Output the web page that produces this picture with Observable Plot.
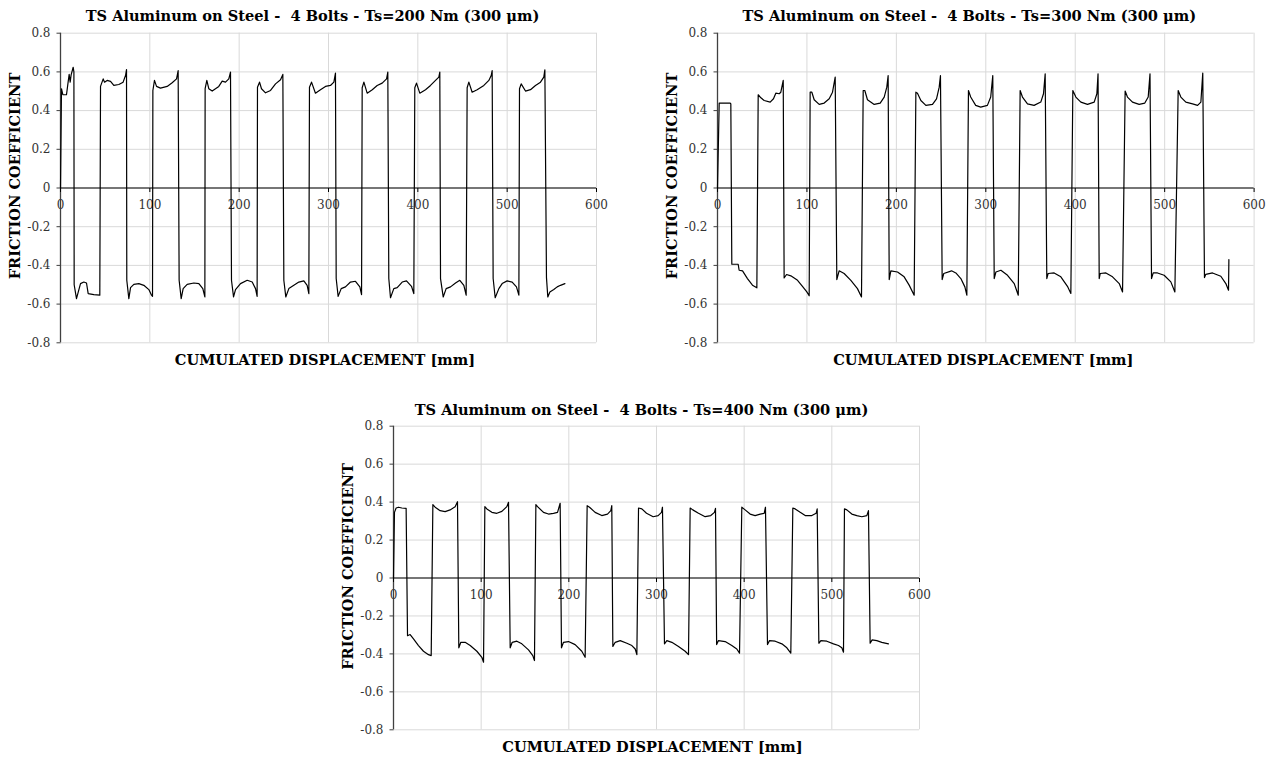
<!DOCTYPE html>
<html><head><meta charset="utf-8">
<script src="https://cdn.jsdelivr.net/npm/d3@7"></script>
<script src="https://cdn.jsdelivr.net/npm/@observablehq/plot@0.6"></script>
<style>
html,body{margin:0;padding:0;background:#fff;overflow:hidden;}
#root{position:relative;width:1277px;height:760px;}
.chart{position:absolute;}
.chart svg text{white-space:pre;}
</style></head><body><div id="root"></div>
<script>
// ---------- text ----------
const titles = [
  "TS Aluminum on Steel -  4 Bolts - Ts=200 Nm (300 \u03bcm)",
  "TS Aluminum on Steel -  4 Bolts - Ts=300 Nm (300 \u03bcm)",
  "TS Aluminum on Steel -  4 Bolts - Ts=400 Nm (300 \u03bcm)"
];
const xLabel = "CUMULATED DISPLACEMENT [mm]";
const yLabel = "FRICTION COEFFICIENT";
const xTicks = [0, 100, 200, 300, 400, 500, 600];
const xTickLabels = ["0", "100", "200", "300", "400", "500", "600"];
const yTicks = [-0.8, -0.6, -0.4, -0.2, 0, 0.2, 0.4, 0.6, 0.8];
const yTickLabels = ["-0.8", "-0.6", "-0.4", "-0.2", "0", "0.2", "0.4", "0.6", "0.8"];

// ---------- data: Ts = 200 Nm ----------
const ts200X = [
  0, 1.1, 2.6, 6.7, 8.6, 9.7, 10.8, 11.9, 14.2, 15.0,
  15.3, 17.9, 22.4, 26.1, 29.1, 31.0, 37.3, 44.0,
  44.8, 47.8, 49.3, 52.2, 56.0, 59.7, 65.3, 70.1, 72.8, 73.9,
  74.2, 76.5, 78.4, 82.1, 87.7, 93.3, 98.9, 101.9, 103.0,
  103.4, 105.2, 107.5, 111.9, 119.4, 125.0, 129.9, 131.7,
  132.8, 135.1, 137.3, 141.8, 149.3, 154.9, 159.3, 161.6,
  161.9, 163.8, 166.0, 169.8, 177.2, 181.0, 184.7, 188.4, 190.3,
  191.4, 193.7, 195.9, 201.5, 209.0, 214.6, 218.3, 220.1,
  220.5, 222.8, 225.0, 229.5, 235.1, 240.7, 246.3, 248.9,
  250.0, 252.2, 255.6, 261.2, 266.8, 272.4, 276.1, 278.0,
  278.7, 281.0, 285.4, 291.0, 296.6, 302.2, 306.0, 307.8,
  308.6, 310.8, 314.2, 319.0, 324.6, 330.2, 335.1, 337.0,
  337.7, 339.6, 343.3, 349.0, 354.5, 360.1, 365.0, 366.4,
  367.5, 369.4, 373.1, 376.9, 382.5, 387.3, 392.9, 395.5,
  396.6, 398.5, 402.2, 408.6, 414.2, 419.8, 423.5, 424.6,
  425.4, 428.4, 431.7, 436.6, 442.2, 447.0, 451.5, 454.1,
  455.2, 457.1, 460.8, 466.4, 473.9, 479.5, 482.1, 483.2,
  484.3, 486.6, 490.7, 494.4, 500.0, 505.6, 510.4, 513.1,
  513.8, 515.7, 520.5, 526.1, 531.7, 537.3, 541.0, 542.2,
  544.0, 545.5, 547.8, 552.2, 556.0, 559.7, 564.6
];
const ts200Y = [
  0, 0.513, 0.482, 0.482, 0.55, 0.587, 0.547, 0.585, 0.624, 0.60,
  -0.50, -0.572, -0.494, -0.486, -0.491, -0.546, -0.551, -0.554,
  0.525, 0.564, 0.547, 0.556, 0.551, 0.530, 0.535, 0.547, 0.581, 0.612,
  -0.477, -0.572, -0.515, -0.498, -0.494, -0.503, -0.525, -0.554, -0.56,
  0.504, 0.556, 0.525, 0.516, 0.525, 0.544, 0.564, 0.607,
  -0.477, -0.572, -0.520, -0.498, -0.491, -0.494, -0.520, -0.563,
  0.513, 0.556, 0.513, 0.501, 0.525, 0.552, 0.547, 0.564, 0.599,
  -0.477, -0.563, -0.525, -0.494, -0.477, -0.486, -0.520, -0.560,
  0.521, 0.547, 0.513, 0.492, 0.504, 0.538, 0.559, 0.587,
  -0.477, -0.563, -0.520, -0.503, -0.486, -0.480, -0.503, -0.546,
  0.521, 0.547, 0.490, 0.508, 0.525, 0.530, 0.547, 0.594,
  -0.468, -0.560, -0.520, -0.511, -0.486, -0.482, -0.511, -0.551,
  0.518, 0.547, 0.490, 0.508, 0.530, 0.542, 0.564, 0.599,
  -0.468, -0.567, -0.520, -0.515, -0.486, -0.480, -0.508, -0.546,
  0.518, 0.542, 0.490, 0.508, 0.530, 0.556, 0.573, 0.599,
  -0.468, -0.563, -0.520, -0.511, -0.491, -0.477, -0.503, -0.554,
  0.518, 0.547, 0.495, 0.508, 0.530, 0.556, 0.581, 0.607,
  -0.468, -0.567, -0.520, -0.494, -0.480, -0.486, -0.511, -0.554,
  0.513, 0.538, 0.501, 0.508, 0.530, 0.547, 0.573, 0.611,
  -0.463, -0.563, -0.537, -0.525, -0.511, -0.503, -0.494
];

// ---------- data: Ts = 300 Nm ----------
const ts300X = [
  0, 1.9, 14.2, 14.9,
  16.0, 23.1, 24.2, 28.0, 33.5, 39.1, 44.0,
  45.5, 48.5, 52.2, 58.9, 62.6, 65.2, 69.0, 70.8, 73.5,
  74.5, 77.2, 82.0, 89.5, 95.0, 99.9, 102.5,
  103.6, 105.5, 108.1, 113.7, 119.3, 124.9, 128.6, 131.6,
  133.4, 136.0, 141.6, 149.1, 156.5, 161.0,
  162.9, 164.7, 167.7, 175.2, 181.9, 186.4, 189.3, 190.8,
  192.0, 193.8, 201.3, 208.7, 214.3, 219.9,
  221.8, 223.6, 227.4, 233.0, 240.4, 244.9, 247.9, 249.3,
  251.2, 253.0, 261.7, 266.5, 272.1, 276.6, 278.8,
  280.6, 283.1, 288.7, 294.3, 301.8, 305.5, 307.8,
  309.4, 311.3, 316.9, 324.3, 331.8, 336.3,
  338.4, 341.0, 346.6, 354.0, 361.5, 364.5, 366.4,
  368.2, 369.7, 376.4, 383.9, 391.3, 395.1,
  397.3, 400.7, 406.3, 413.7, 421.2, 424.2, 425.5,
  426.8, 427.9, 434.3, 441.7, 449.2, 452.9,
  455.8, 458.4, 464.0, 471.5, 477.8, 481.6, 483.6,
  485.3, 487.2, 492.0, 499.4, 506.9, 511.4,
  515.1, 518.1, 523.7, 531.2, 536.8, 540.5, 542.6,
  544.5, 546.0, 553.5, 562.8, 568.4, 571.4, 571.8
];
const ts300Y = [
  0, 0.439, 0.439, 0.435,
  -0.394, -0.394, -0.425, -0.428, -0.468, -0.502, -0.516,
  0.482, 0.466, 0.452, 0.444, 0.461, 0.490, 0.487, 0.495, 0.556,
  -0.465, -0.447, -0.454, -0.477, -0.508, -0.537, -0.557,
  0.495, 0.495, 0.456, 0.432, 0.439, 0.461, 0.495, 0.573,
  -0.473, -0.428, -0.442, -0.477, -0.520, -0.563,
  0.504, 0.504, 0.456, 0.432, 0.439, 0.470, 0.521, 0.581,
  -0.473, -0.428, -0.434, -0.459, -0.502, -0.554,
  0.495, 0.490, 0.452, 0.427, 0.432, 0.461, 0.521, 0.581,
  -0.473, -0.442, -0.428, -0.439, -0.468, -0.511, -0.554,
  0.504, 0.470, 0.427, 0.418, 0.427, 0.470, 0.581,
  -0.468, -0.434, -0.425, -0.451, -0.494, -0.554,
  0.504, 0.470, 0.435, 0.427, 0.444, 0.487, 0.590,
  -0.468, -0.442, -0.439, -0.459, -0.508, -0.545,
  0.504, 0.470, 0.444, 0.432, 0.444, 0.487, 0.590,
  -0.468, -0.442, -0.439, -0.459, -0.494, -0.537,
  0.501, 0.470, 0.444, 0.432, 0.439, 0.470, 0.590,
  -0.468, -0.439, -0.439, -0.451, -0.485, -0.537,
  0.504, 0.470, 0.444, 0.435, 0.427, 0.444, 0.594,
  -0.463, -0.446, -0.439, -0.456, -0.494, -0.528, -0.370
];

// ---------- data: Ts = 400 Nm ----------
const ts400X = [
  0, 1.1, 3.0, 5.7, 9.5, 14.4,
  16.0, 19.0, 22.8, 28.5, 34.2, 39.9, 43.0,
  44.9, 47.5, 53.2, 58.9, 64.6, 70.3, 73.0,
  74.5, 76.8, 81.7, 87.5, 95.1, 100.8, 102.7,
  104.2, 106.5, 112.2, 117.9, 123.6, 129.3, 131.2,
  133.1, 135.4, 140.7, 146.4, 154.0, 158.9, 160.8,
  162.4, 164.3, 171.1, 176.8, 182.5, 187.1, 190.1,
  191.6, 193.9, 199.6, 207.2, 214.8, 218.6,
  220.9, 223.6, 230.0, 237.6, 244.1, 247.9, 249.0,
  250.2, 252.9, 258.6, 266.2, 271.9, 275.7, 277.6,
  279.5, 283.3, 288.6, 296.2, 301.9, 305.7, 306.8,
  309.1, 311.8, 317.5, 325.1, 332.7, 336.5,
  338.4, 341.4, 347.9, 355.5, 361.9, 366.1, 367.3,
  368.6, 370.7, 378.3, 385.9, 391.6, 394.7,
  397.3, 401.1, 406.8, 412.5, 418.3, 422.8, 424.3,
  426.6, 428.9, 435.4, 443.0, 448.7, 453.2,
  455.5, 458.2, 463.9, 469.6, 477.2, 482.1, 483.3,
  485.2, 487.5, 494.3, 501.9, 507.6, 511.4, 513.3,
  514.4, 517.1, 522.8, 528.5, 534.2, 539.9, 541.8,
  543.7, 546.0, 551.3, 557.0, 564.6
];
const ts400Y = [
  0, 0.346, 0.369, 0.373, 0.369, 0.367,
  -0.304, -0.298, -0.321, -0.356, -0.386, -0.404, -0.409,
  0.387, 0.373, 0.355, 0.350, 0.359, 0.376, 0.402,
  -0.368, -0.339, -0.339, -0.356, -0.386, -0.418, -0.444,
  0.376, 0.364, 0.346, 0.341, 0.351, 0.376, 0.399,
  -0.368, -0.339, -0.333, -0.347, -0.379, -0.409, -0.435,
  0.387, 0.376, 0.346, 0.337, 0.341, 0.346, 0.394,
  -0.368, -0.339, -0.335, -0.351, -0.386, -0.418,
  0.381, 0.373, 0.346, 0.329, 0.337, 0.355, 0.381,
  -0.361, -0.339, -0.330, -0.344, -0.356, -0.374, -0.404,
  0.369, 0.364, 0.341, 0.323, 0.329, 0.346, 0.373,
  -0.347, -0.330, -0.339, -0.361, -0.386, -0.404,
  0.369, 0.359, 0.341, 0.323, 0.329, 0.346, 0.367,
  -0.351, -0.330, -0.335, -0.356, -0.374, -0.396,
  0.373, 0.359, 0.337, 0.329, 0.337, 0.341, 0.373,
  -0.351, -0.330, -0.333, -0.347, -0.368, -0.396,
  0.369, 0.364, 0.346, 0.329, 0.329, 0.341, 0.364,
  -0.344, -0.330, -0.333, -0.347, -0.356, -0.368, -0.391,
  0.364, 0.359, 0.337, 0.329, 0.323, 0.329, 0.355,
  -0.344, -0.326, -0.330, -0.339, -0.347
];

// ---------- drawing ----------
const FONT = "DejaVu Serif";
const BOLD_SIZE = 14.6;
const TICK_SIZE = 12;
const tickDown = {draw(ctx) { ctx.moveTo(0, 0); ctx.lineTo(0, 4); }};
const tickLeft = {draw(ctx) { ctx.moveTo(0, 0); ctx.lineTo(-4, 0); }};

function makeChart(xs, ys, title, L) {
  const svg = Plot.plot({
    width: L.width, height: L.height,
    marginTop: L.mt, marginRight: L.mr, marginBottom: L.mb, marginLeft: L.ml,
    x: {domain: [0, 600], axis: null},
    y: {domain: [-0.8, 0.8], axis: null},
    style: {fontFamily: FONT, background: "white", overflow: "visible"},
    marks: [
      Plot.ruleX(xTicks.slice(1), {x: d => d, stroke: "#d9d9d9", strokeWidth: 1}),
      Plot.ruleY(yTicks, {y: d => d, stroke: "#d9d9d9", strokeWidth: 1}),
      Plot.text(xTicks, {x: d => d, y: 0, text: (d, i) => xTickLabels[i], dy: 17.5, fontSize: TICK_SIZE, fill: "#333"}),
      Plot.text(yTicks, {x: 0, y: d => d, text: (d, i) => yTickLabels[i], textAnchor: "end", dx: -10, fontSize: TICK_SIZE, fill: "#333"}),
      Plot.dot(yTicks, {x: 0, y: d => d, symbol: tickLeft, fill: "none", stroke: "#404040", strokeWidth: 1, r: 2}),
      Plot.ruleX([0], {x: d => d, stroke: "#404040", strokeWidth: 1.3}),
      Plot.ruleY([0], {y: d => d, stroke: "black", strokeWidth: 1.2}),
      Plot.dot(xTicks, {x: d => d, y: 0, symbol: tickDown, fill: "none", stroke: "black", strokeWidth: 1, r: 2}),
      Plot.line(ys, {x: xs, y: ys, stroke: "black", strokeWidth: 1.2}),
      Plot.text([title], {text: d => d, frameAnchor: "top", textAnchor: "middle", lineAnchor: "middle", dx: L.tdx, dy: L.tdy, fontWeight: "bold", fontSize: BOLD_SIZE, fill: "black"}),
      Plot.text([xLabel], {text: d => d, frameAnchor: "bottom", textAnchor: "middle", lineAnchor: "middle", dx: L.xdx, dy: 17.7, fontWeight: "bold", fontSize: BOLD_SIZE, fill: "black"}),
      Plot.text([yLabel], {text: d => d, frameAnchor: "left", textAnchor: "middle", lineAnchor: "middle", rotate: -90, dx: -45, dy: L.ydy, fontWeight: "bold", fontSize: BOLD_SIZE, fill: "black"})
    ]
  });
  const div = document.createElement("div");
  div.className = "chart";
  div.style.left = L.left + "px";
  div.style.top = L.top + "px";
  div.appendChild(svg);
  document.getElementById("root").appendChild(div);
}

const layouts = [
  {left: 0, top: 0, width: 620, height: 375, mt: 32.7, mb: 32.7, ml: 60, mr: 24, tdx: -16, tdy: -16.7, xdx: -3.5, ydy: -12},
  {left: 656.7, top: 0, width: 620, height: 375, mt: 32.7, mb: 32.7, ml: 60, mr: 23.4, tdx: -16.5, tdy: -16.7, xdx: -2.5, ydy: -12},
  {left: 333.3, top: 385, width: 620, height: 375, mt: 40.7, mb: 30.7, ml: 60, mr: 34, tdx: -15, tdy: -16.2, xdx: -4, ydy: -11.5}
];
makeChart(ts200X, ts200Y, titles[0], layouts[0]);
makeChart(ts300X, ts300Y, titles[1], layouts[1]);
makeChart(ts400X, ts400Y, titles[2], layouts[2]);
</script></body></html>
